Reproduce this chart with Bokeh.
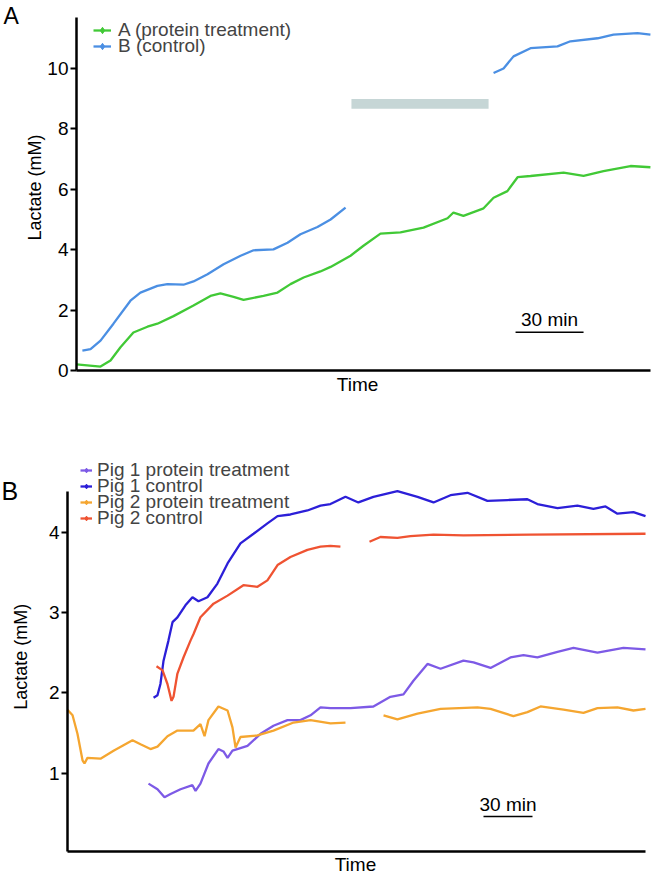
import numpy as np
from bokeh.plotting import figure
from bokeh.models import Range1d, FixedTicker, Legend, LegendItem, Label, ColumnDataSource
from bokeh.layouts import column
from bokeh.embed import file_html
from bokeh.resources import INLINE

FONT = "Liberation Sans"
NAN = float("nan")

# ---------------- Panel A data (time in minutes, lactate in mM) ----------------
a_treat_t = [0, 10.6, 15.0, 19.4, 25.1, 31.3, 35.7, 42.8, 51.6, 59.1, 63.5, 69.3, 73.7,
             82.5, 88.7, 94.4, 100.2, 107.6, 112.1, 120.9, 126.6, 134.1, 142.9, 153.1,
             163.7, 166.3, 170.7, 179.6, 184.0, 190.1, 194.6, 200.3, 214.9, 223.7,
             232.5, 244.4, 253.2]
a_treat_y = [0.20, 0.13, 0.33, 0.77, 1.26, 1.45, 1.55, 1.80, 2.15, 2.47, 2.55, 2.44, 2.34,
             2.47, 2.58, 2.86, 3.08, 3.28, 3.43, 3.80, 4.13, 4.53, 4.57, 4.73,
             5.04, 5.23, 5.12, 5.37, 5.72, 5.94, 6.40, 6.44, 6.55, 6.44,
             6.60, 6.77, 6.73]

a_ctrl_t = [2.6, 6.2, 10.6, 16.3, 23.8, 28.2, 35.7, 40.1, 47.2, 51.6, 57.8, 64.9, 72.4,
            78.1, 86.9, 93.1, 98.8, 106.3, 112.1, 118.7, NAN,
            184.0, 188.4, 192.8, 200.3, 212.2, 217.9, 229.9, 236.9, 247.5, 253.2]
a_ctrl_y = [0.66, 0.71, 0.99, 1.55, 2.31, 2.58, 2.80, 2.86, 2.84, 2.95, 3.19, 3.52, 3.80,
            3.98, 4.01, 4.23, 4.51, 4.75, 5.00, 5.39, NAN,
            9.85, 10.00, 10.40, 10.67, 10.73, 10.90, 11.00, 11.12, 11.17, 11.12]

a_period_start, a_period_end, a_period_level = 121.3, 181.8, 8.83

# ---------------- Panel B data ----------------
p2_treat_t = [0, 3.1, 6.1, 9.2, 10.4, 12.2, 20.2, 28.2, 39.8, 44.7, 50.8, 55.1, 61.2, 67.3,
              77.1, 81.4, 83.9, 86.3, 92.4, 98.0, 101.0, 102.9, 105.9, 116.3, 126.1, 138.4,
              148.8, 161.0, 170.2, NAN,
              193.5, 202.0, 214.3, 228.4, 251.0, 259.0, 273.0, 281.6, 289.6, 303.7, 315.9,
              324.5, 336.7, 346.5, 353.9]
p2_treat_y = [1.79, 1.72, 1.49, 1.16, 1.12, 1.19, 1.18, 1.28, 1.41, 1.36, 1.30, 1.33, 1.46, 1.53,
              1.53, 1.61, 1.46, 1.66, 1.83, 1.78, 1.57, 1.32, 1.45, 1.47, 1.53, 1.63,
              1.66, 1.62, 1.63, NAN,
              1.72, 1.67, 1.74, 1.80, 1.82, 1.80, 1.71, 1.76, 1.83, 1.79, 1.75,
              1.81, 1.82, 1.78, 1.80]

p1_treat_t = [49.6, 55.1, 59.4, 63.1, 69.2, 76.5, 78.4, 81.4, 86.3, 92.4, 95.5, 98.0, 101.0,
              110.2, 118.2, 126.1, 134.7, 142.6, 148.8, 154.9, 161.0, 173.3, 187.3, 197.7,
              205.7, 211.8, 220.4, 228.4, 242.4, 248.6, 259.0, 271.2, 279.2, 287.7, 300.0,
              309.8, 324.5, 340.4, 353.9]
p1_treat_y = [0.87, 0.80, 0.70, 0.74, 0.80, 0.85, 0.78, 0.87, 1.12, 1.30, 1.27, 1.19, 1.28,
              1.34, 1.49, 1.59, 1.66, 1.66, 1.72, 1.82, 1.81, 1.81, 1.83, 1.95,
              1.98, 2.15, 2.36, 2.30, 2.40, 2.38, 2.31, 2.44, 2.47, 2.44, 2.51,
              2.56, 2.50, 2.56, 2.54]

p1_ctrl_t = [52.7, 55.1, 56.9, 58.8, 61.8, 64.3, 67.3, 72.2, 76.5, 80.2, 85.7, 91.8, 98.0,
             105.9, 113.9, 122.4, 128.6, 136.5, 146.9, 154.9, 161.0, 170.2, 178.1, 187.3,
             202.0, 214.3, 224.1, 234.5, 244.9, 257.1, 269.4, 281.6, 287.7, 300.0, 312.2,
             322.0, 329.4, 336.7, 346.5, 353.9]
p1_ctrl_y = [1.94, 1.97, 2.11, 2.40, 2.65, 2.88, 2.94, 3.09, 3.19, 3.14, 3.19, 3.36, 3.61,
             3.86, 3.98, 4.11, 4.20, 4.22, 4.27, 4.33, 4.35, 4.44, 4.37, 4.44,
             4.51, 4.44, 4.37, 4.46, 4.49, 4.39, 4.40, 4.41, 4.35, 4.30, 4.33,
             4.29, 4.32, 4.23, 4.25, 4.20]

p2_ctrl_t = [54.5, 58.2, 61.2, 63.7, 64.9, 67.3, 71.0, 75.3, 77.1, 81.4, 89.4, 98.0, 107.7,
             116.3, 122.4, 128.6, 136.5, 146.9, 154.9, 161.0, 167.1, NAN,
             184.9, 191.6, 202.0, 210.0, 224.1, 242.4, 283.4, 353.9]
p2_ctrl_y = [2.33, 2.28, 2.11, 1.90, 1.95, 2.24, 2.44, 2.65, 2.73, 2.94, 3.11, 3.21, 3.34,
             3.32, 3.40, 3.59, 3.69, 3.78, 3.82, 3.83, 3.82, NAN,
             3.88, 3.94, 3.93, 3.95, 3.97, 3.96, 3.97, 3.98]

scale_minutes = 30
a_scale_start, a_scale_level = 193.7, 1.27
b_scale_start, b_scale_level = 254.7, 0.46

a_ticks = [0, 2, 4, 6, 8, 10]
b_ticks = [1, 2, 3, 4]

C_A = "#41c936"
C_B = "#4b8fe3"
C_P1T = "#7d5ae6"
C_P1C = "#2c1fd8"
C_P2T = "#f5a630"
C_P2C = "#ef5332"


def make_fig(height, xr, yr):
    p = figure(width=654, height=height, output_backend="svg", toolbar_location=None,
               x_range=Range1d(*xr), y_range=Range1d(*yr),
               min_border=0, min_border_left=0, min_border_right=0,
               min_border_top=0, min_border_bottom=0)
    p.outline_line_color = None
    p.xgrid.visible = False
    p.ygrid.visible = False
    return p


def style(p, ticks, xbounds, ybounds):
    for ax in p.xaxis:
        ax.ticker = FixedTicker(ticks=[])
        ax.fixed_location = ybounds[0]
        ax.bounds = xbounds
        ax.axis_line_width = 2.5
        ax.axis_line_color = "black"
        ax.major_tick_line_color = None
        ax.minor_tick_line_color = None
        ax.major_label_text_font_size = "0px"
    for ax in p.yaxis:
        ax.ticker = FixedTicker(ticks=ticks)
        ax.fixed_location = xbounds[0]
        ax.bounds = ybounds
        ax.axis_line_width = 2.5
        ax.axis_line_color = "black"
        ax.major_tick_line_width = 2
        ax.major_tick_out = 6
        ax.major_tick_in = 0
        ax.minor_tick_line_color = None
        ax.major_label_text_font = FONT
        ax.major_label_text_font_size = "19px"
        ax.major_label_text_color = "black"
        ax.major_label_standoff = 2


def text(p, x, y, s, size, angle=0.0, align="center"):
    p.add_layout(Label(x=x, y=y, text=s, angle=angle, text_align=align,
                       text_baseline="middle", text_font=FONT,
                       text_font_size=size, text_color="black"))


def add_series(p, t, y, color):
    src = ColumnDataSource(dict(t=np.array(t, dtype=float), y=np.array(y, dtype=float)))
    r = p.line("t", "y", source=src, line_color=color, line_width=2.3)
    # key marker for the legend only: a single undefined point, never drawn on the plot
    m = p.scatter(x=[NAN], y=[NAN], marker="diamond", size=7,
                  fill_color=color, line_color=color)
    return [r, m]


def legend_row(p, label, renderers, loc, glyph_w, standoff):
    p.add_layout(Legend(items=[LegendItem(label=label, renderers=renderers)],
                        location=loc, padding=0, margin=0, spacing=0,
                        glyph_width=glyph_w, glyph_height=16, label_height=16,
                        label_standoff=standoff,
                        label_text_font=FONT, label_text_font_size="19px",
                        border_line_color=None, background_fill_alpha=0), "center")


# ---------------- Figure A ----------------
pa = make_fig(400, (-33.53, 255.0), (-0.993, 12.25))
style(pa, a_ticks, (0, 253.2), (0, 11.7))

pa.quad(left=[a_period_start], right=[a_period_end],
        bottom=[a_period_level - 0.16], top=[a_period_level + 0.16],
        fill_color="#c6d6d6", line_color=None)
ra = add_series(pa, a_treat_t, a_treat_y, C_A)
rb = add_series(pa, a_ctrl_t, a_ctrl_y, C_B)

pa.segment(x0=[a_scale_start], x1=[a_scale_start + scale_minutes],
           y0=[a_scale_level], y1=[a_scale_level], line_color="black", line_width=1.5)
text(pa, a_scale_start + scale_minutes / 2, 1.69, "30 min", "19px")
text(pa, 124.0, -0.46, "Time", "19px")
text(pa, -18.5, 6.06, "Lactate (mM)", "18px", angle=np.pi / 2)
text(pa, -32.2, 11.75, "A", "23px", align="left")

legend_row(pa, "A (protein treatment)", ra, (93, 359), 18, 7)
legend_row(pa, "B (control)", rb, (93, 343), 18, 7)

# ---------------- Figure B ----------------
pb = make_fig(475, (-41.02, 359.4), (-0.274, 5.639))
style(pb, b_ticks, (0, 353.9), (0.03, 4.5))

r1t = add_series(pb, p1_treat_t, p1_treat_y, C_P1T)
r1c = add_series(pb, p1_ctrl_t, p1_ctrl_y, C_P1C)
r2t = add_series(pb, p2_treat_t, p2_treat_y, C_P2T)
r2c = add_series(pb, p2_ctrl_t, p2_ctrl_y, C_P2C)

pb.segment(x0=[b_scale_start], x1=[b_scale_start + scale_minutes],
           y0=[b_scale_level], y1=[b_scale_level], line_color="black", line_width=1.5)
text(pb, b_scale_start + scale_minutes / 2, 0.61, "30 min", "19px")
text(pb, 176.3, -0.137, "Time", "19px")
text(pb, -28.2, 2.45, "Lactate (mM)", "18px", angle=np.pi / 2)
text(pb, -40.4, 4.51, "B", "25px", align="left")

legend_row(pb, "Pig 1 protein treatment", r1t, (80, 394), 12, 5)
legend_row(pb, "Pig 1 control", r1c, (80, 378), 12, 5)
legend_row(pb, "Pig 2 protein treatment", r2t, (80, 362), 12, 5)
legend_row(pb, "Pig 2 control", r2c, (80, 346), 12, 5)

layout = column(pa, pb, spacing=0)
open("out.html", "w").write(file_html(layout, INLINE))
